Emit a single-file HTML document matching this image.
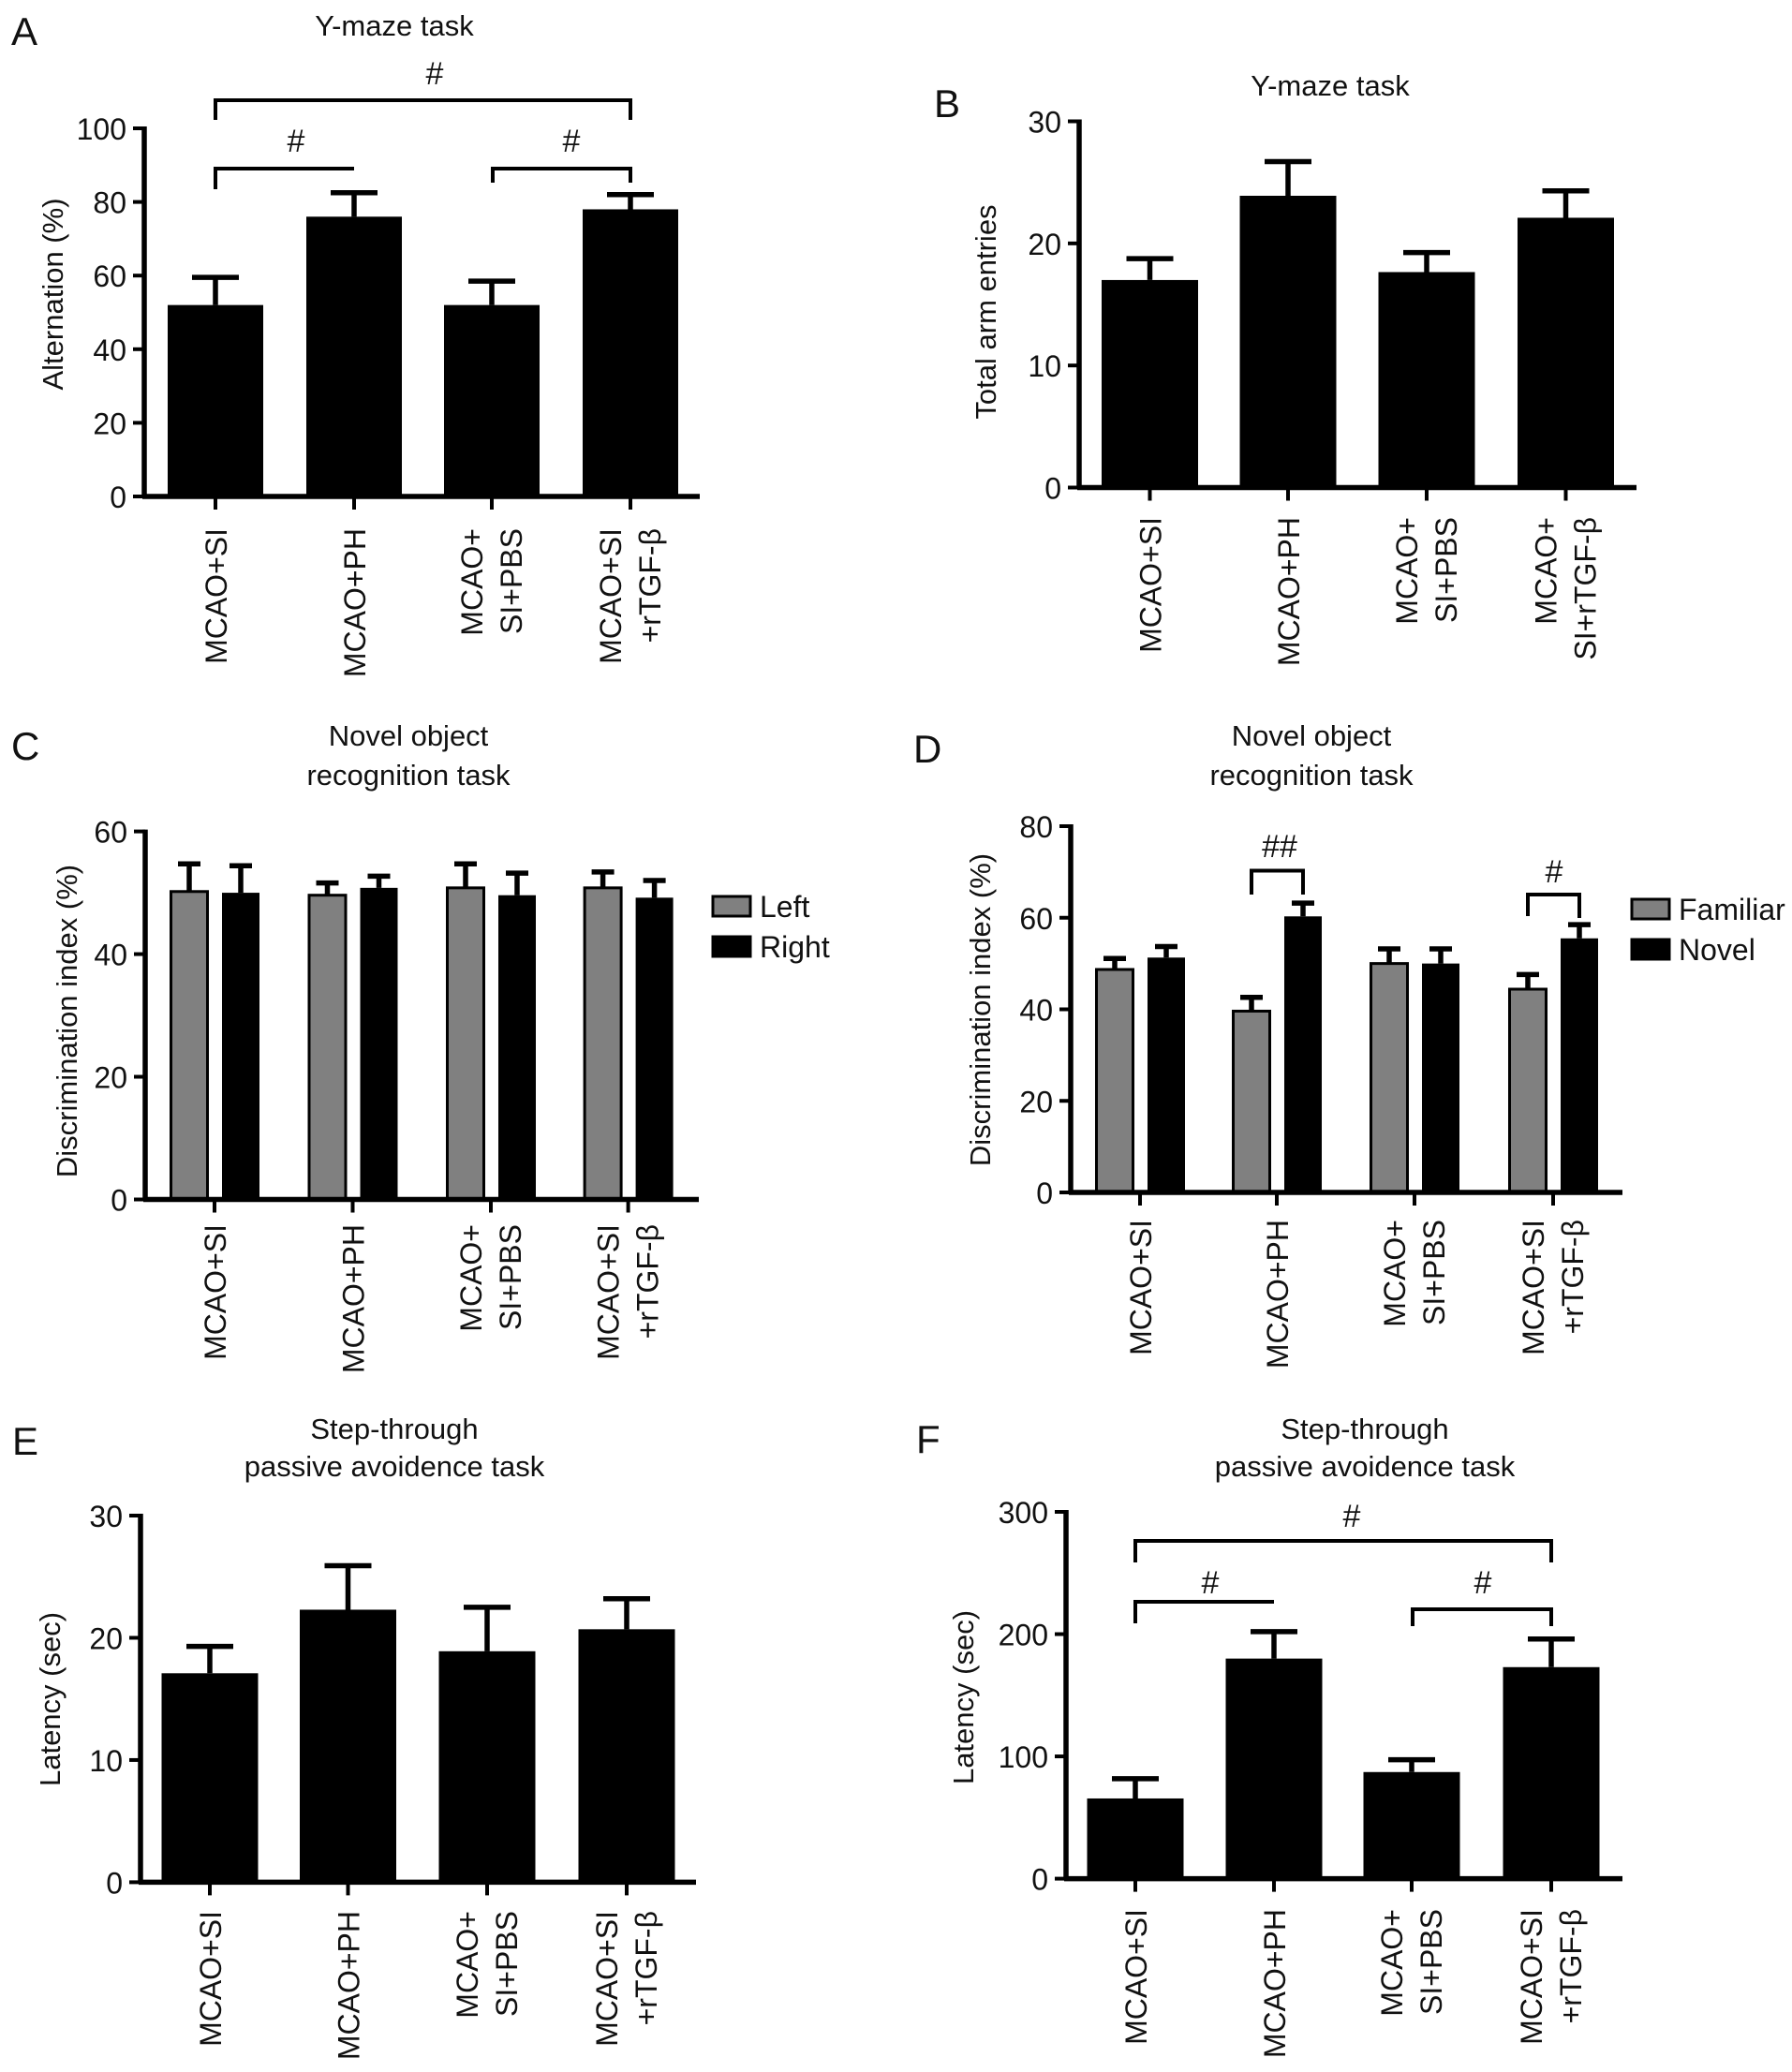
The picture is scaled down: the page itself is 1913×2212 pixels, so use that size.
<!DOCTYPE html>
<html><head><meta charset="utf-8"><style>
html,body{margin:0;padding:0;background:#fff}
svg{display:block}
text{font-family:"Liberation Sans",Arial,sans-serif;fill:#111}
</style></head><body>
<svg id="fig" xmlns="http://www.w3.org/2000/svg" width="1913" height="2212" viewBox="0 0 1913 2212"></svg>
<script>
// ---- data ----
const categories = ["MCAO+SI","MCAO+PH","MCAO+\nSI+PBS","MCAO+SI\n+rTGF-β"];
const categoriesB = ["MCAO+SI","MCAO+PH","MCAO+\nSI+PBS","MCAO+\nSI+rTGF-β"];
const aValues = [52, 76, 52, 78];
const aErrors = [7.5, 6.5, 6.5, 4];
const aTicks = [0,20,40,60,80,100];
const bValues = [17, 23.9, 17.65, 22.1];
const bErrors = [1.75, 2.8, 1.6, 2.2];
const bTicks = [0,10,20,30];
const cLeft = [50.2, 49.6, 50.8, 50.8];
const cLeftErr = [4.5, 2.0, 3.9, 2.6];
const cRight = [50.0, 50.8, 49.6, 49.2];
const cRightErr = [4.4, 1.9, 3.6, 2.8];
const cTicks = [0,20,40,60];
const dFamiliar = [48.7, 39.6, 50.0, 44.4];
const dFamiliarErr = [2.4, 3.0, 3.2, 3.2];
const dNovel = [51.3, 60.3, 50.0, 55.5];
const dNovelErr = [2.4, 2.9, 3.2, 3.0];
const dTicks = [0,20,40,60,80];
const eValues = [17.1, 22.3, 18.9, 20.7];
const eErrors = [2.2, 3.6, 3.6, 2.5];
const eTicks = [0,10,20,30];
const fValues = [65.6, 180, 87.2, 173];
const fErrors = [16.2, 22, 10.1, 23];
const fTicks = [0,100,200,300];

const NS = "http://www.w3.org/2000/svg";
const svg = document.getElementById('fig');
function mk(tag, attrs, parent){
  const e = document.createElementNS(NS, tag);
  for (const k in attrs) e.setAttribute(k, attrs[k]);
  (parent||svg).appendChild(e);
  return e;
}
function txt(s, x, y, size, anchor, parent, rot){
  const t = mk('text', {x:x, y:y, 'font-size':size, 'text-anchor':anchor||'middle'}, parent);
  if (rot) t.setAttribute('transform', 'rotate(-90 '+x+' '+y+')');
  t.textContent = s;
  return t;
}

function panel(cfg){
  const g = mk('g', {});
  
  
  const ys = v => cfg.y0 + (cfg.yTop - cfg.y0) * (v / cfg.max);
  const L = txt(cfg.letter, cfg.letterX, cfg.letterY, 42, 'start', g);
  
  
  cfg.title.forEach((line, i) => {
    const t = txt(line, cfg.titleX, cfg.titleY[i], 31, 'middle', g);
    
    
  });
  const yl = txt(cfg.ylabel, cfg.ylabelX + 11, cfg.ylabelY, 31, 'middle', g, true);
  
  
  cfg.series.forEach((s) => {
    s.values.forEach((v, i) => {
      const cx = cfg.ticksX[i] + s.offset;
      const top = ys(v);
      const r = mk('rect', {x: cx - s.width/2, y: top, width: s.width, height: cfg.y0 - top, fill: s.fill, stroke:'#000', 'stroke-width': s.fill === '#000' ? 0 : 3}, g);
      
      
      const et = ys(v + s.errors[i]);
      const eb = mk('path', {d: 'M'+cx+' '+top+'V'+et+'M'+(cx - s.cap/2)+' '+et+'H'+(cx + s.cap/2), stroke:'#000', 'stroke-width':5.5, fill:'none'}, g);
      
      
    });
  });
  const ax = mk('path', {d:'M'+cfg.axisX+' '+(cfg.yTop-2)+'V'+cfg.y0+'M'+(cfg.axisX-2)+' '+cfg.y0+'H'+cfg.axisEnd, stroke:'#000','stroke-width':5.5, fill:'none'}, g);
  
  
  cfg.ticks.forEach(t => {
    const y = ys(t);
    const tk = mk('line', {x1:cfg.axisX-12, x2:cfg.axisX, y1:y, y2:y, stroke:'#000','stroke-width':4}, g);
    
    
    const tl = txt(String(t), cfg.axisX - 19, y + 12, 32, 'end', g);
    
    
  });
  cfg.ticksX.forEach((x, i) => {
    const tk = mk('line', {x1:x, x2:x, y1:cfg.y0, y2:cfg.y0+14, stroke:'#000','stroke-width':4}, g);
    
    
    const lines = cfg.cats[i].split('\n');
    lines.forEach((ln, j) => {
      const off = lines.length === 1 ? 12 : (j === 0 ? -10 : 32);
      const tl = txt(ln, x + off, cfg.labelTop, 32, 'end', g, true);
      
      
    });
  });
  if (cfg.legend) cfg.legend.forEach(l => {
    const b = mk('rect', {x:l.x, y:l.y, width:40, height:21, fill:l.fill, stroke:'#000','stroke-width':3}, g);
    
    
    const t = txt(l.label, l.x + 50, l.y + 22, 32, 'start', g);
    
    
  });
  if (cfg.brackets) cfg.brackets.forEach(br => {
    const p = mk('path', {d:'M'+br.x1+' '+br.d1+'V'+br.y+'H'+br.x2+'V'+br.d2, stroke:'#000','stroke-width':4, fill:'none'}, g);
    
    
    const t = txt(br.label, br.tx, br.ty, 34, 'middle', g);
    
    
  });
}

panel({name:'panel-a', letter:'A', letterX:12, letterY:48, title:['Y-maze task'], titleX:421, titleY:[38],
  ylabel:'Alternation (%)', ylabelX:56, ylabelY:314, axisX:154, axisEnd:747, y0:530, yTop:137, max:100,
  ticks:aTicks, ticksX:[230,378,525,673], cats:categories, labelTop:564,
  series:[{key:'a', values:aValues, errors:aErrors, offset:0, width:102, fill:'#000', cap:50}],
  brackets:[
    {x1:230,x2:673,y:107,d1:128,d2:128,label:'#',tx:464,ty:90},
    {x1:230,x2:378,y:180,d1:202,d2:180,label:'#',tx:316,ty:162},
    {x1:526,x2:673,y:180,d1:195,d2:195,label:'#',tx:610,ty:162}
  ]});
panel({name:'panel-b', letter:'B', letterX:997, letterY:125, title:['Y-maze task'], titleX:1420, titleY:[102],
  ylabel:'Total arm entries', ylabelX:1052, ylabelY:333, axisX:1152, axisEnd:1747, y0:520.5, yTop:129.5, max:30,
  ticks:bTicks, ticksX:[1227.5,1375,1523,1671.5], cats:categoriesB, labelTop:552,
  series:[{key:'b', values:bValues, errors:bErrors, offset:0, width:103, fill:'#000', cap:50}]});
panel({name:'panel-c', letter:'C', letterX:12, letterY:811, title:['Novel object','recognition task'], titleX:436, titleY:[796,838],
  ylabel:'Discrimination index (%)', ylabelX:71, ylabelY:1090, axisX:155, axisEnd:746, y0:1280.5, yTop:887.6, max:60,
  ticks:cTicks, ticksX:[229,376.5,524,670.6], cats:categories, labelTop:1307,
  series:[{key:'left', values:cLeft, errors:cLeftErr, offset:-27, width:39, fill:'#808080', cap:24},
          {key:'right', values:cRight, errors:cRightErr, offset:28, width:40, fill:'#000', cap:24}],
  legend:[{x:761,y:957,fill:'#808080',label:'Left'},{x:761,y:1000,fill:'#000',label:'Right'}]});
panel({name:'panel-d', letter:'D', letterX:975, letterY:814, title:['Novel object','recognition task'], titleX:1400, titleY:[796,838],
  ylabel:'Discrimination index (%)', ylabelX:1046, ylabelY:1078, axisX:1143, axisEnd:1732, y0:1273, yTop:882, max:80,
  ticks:dTicks, ticksX:[1217,1363,1510,1658], cats:categories, labelTop:1302,
  series:[{key:'familiar', values:dFamiliar, errors:dFamiliarErr, offset:-27, width:39, fill:'#808080', cap:24},
          {key:'novel', values:dNovel, errors:dNovelErr, offset:28, width:40, fill:'#000', cap:24}],
  legend:[{x:1742,y:960,fill:'#808080',label:'Familiar'},{x:1742,y:1003,fill:'#000',label:'Novel'}],
  brackets:[
    {x1:1336,x2:1391,y:929.5,d1:955,d2:955,label:'##',tx:1366,ty:915},
    {x1:1631,x2:1686,y:955,d1:978,d2:980,label:'#',tx:1659,ty:942}
  ]});
panel({name:'panel-e', letter:'E', letterX:13, letterY:1553, title:['Step-through','passive avoidence task'], titleX:421, titleY:[1536,1576],
  ylabel:'Latency (sec)', ylabelX:53, ylabelY:1814, axisX:150, axisEnd:743, y0:2009.4, yTop:1618, max:30,
  ticks:eTicks, ticksX:[224,371.5,520,669], cats:categories, labelTop:2040,
  series:[{key:'e', values:eValues, errors:eErrors, offset:0, width:103, fill:'#000', cap:50}]});
panel({name:'panel-f', letter:'F', letterX:978, letterY:1551, title:['Step-through','passive avoidence task'], titleX:1457, titleY:[1536,1576],
  ylabel:'Latency (sec)', ylabelX:1028, ylabelY:1812, axisX:1138, axisEnd:1732, y0:2005.6, yTop:1614, max:300,
  ticks:fTicks, ticksX:[1212,1360,1507,1656], cats:categories, labelTop:2038,
  series:[{key:'f', values:fValues, errors:fErrors, offset:0, width:103, fill:'#000', cap:50}],
  brackets:[
    {x1:1212,x2:1656,y:1645,d1:1668,d2:1668,label:'#',tx:1443,ty:1630},
    {x1:1212,x2:1360,y:1710,d1:1733,d2:1710,label:'#',tx:1292,ty:1701},
    {x1:1508,x2:1656,y:1718,d1:1736,d2:1736,label:'#',tx:1583,ty:1701}
  ]});
</script>
</body></html>
